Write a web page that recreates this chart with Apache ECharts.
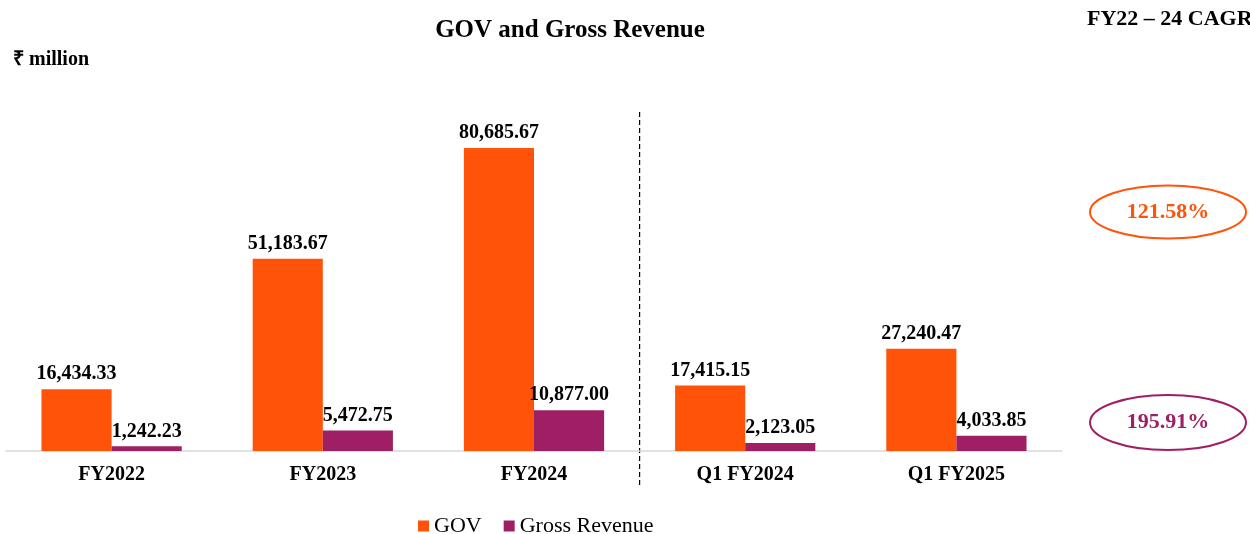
<!DOCTYPE html>
<html>
<head>
<meta charset="utf-8">
<script src="https://cdn.jsdelivr.net/npm/echarts@6/dist/echarts.min.js"></script>
<style>
  html, body { margin: 0; padding: 0; background: #fff; }
  #chart { width: 1250px; height: 534px; }
</style>
</head>
<body>
<div id="chart"></div>
<script>
// Periods shown on the category axis
const categories = ['FY2022', 'FY2023', 'FY2024', 'Q1 FY2024', 'Q1 FY2025'];
// Values in ₹ million
const govValues = [16434.33, 51183.67, 80685.67, 17415.15, 27240.47];
const grossRevenueValues = [1242.23, 5472.75, 10877.00, 2123.05, 4033.85];
// FY22 – 24 compound annual growth
const cagrLabels = ['121.58%', '195.91%'];

const GOV_COLOR = '#FF5309';
const REV_COLOR = '#9E1F63';
const FONT = '"Liberation Serif", "Times New Roman", serif';

const fmt = v => v.toLocaleString('en-US', { minimumFractionDigits: 2, maximumFractionDigits: 2 });

const chart = echarts.init(document.getElementById('chart'), null, { renderer: 'canvas' });

const labelStyle = {
  show: true,
  position: 'top',
  distance: 5,
  fontFamily: FONT,
  fontWeight: 'bold',
  fontSize: 20,
  color: '#000',
  formatter: p => fmt(p.value)
};

chart.setOption({
  animation: false,
  textStyle: { fontFamily: FONT },
  title: {
    text: 'GOV and Gross Revenue',
    left: 565,
    textAlign: 'center',
    top: 13,
    textStyle: { fontFamily: FONT, fontSize: 25, fontWeight: 'bold', color: '#000' }
  },
  legend: {
    data: ['GOV', 'Gross Revenue'],
    left: 418,
    top: 515,
    padding: 0,
    icon: 'rect',
    itemWidth: 11,
    itemHeight: 11,
    itemGap: 22,
    textStyle: { fontFamily: FONT, fontSize: 22, color: '#000' }
  },
  grid: { left: 6, right: 188, top: 100, bottom: 83, containLabel: false },
  xAxis: {
    type: 'category',
    data: categories,
    axisLine: { show: true, lineStyle: { color: '#d9d9d9', width: 1.5 } },
    axisTick: { show: false },
    axisLabel: {
      fontFamily: FONT, fontWeight: 'bold', fontSize: 20, color: '#000', margin: 14
    }
  },
  yAxis: {
    type: 'value',
    min: 0,
    max: 93500,
    show: false,
    splitLine: { show: false }
  },
  series: [
    {
      name: 'GOV',
      type: 'bar',
      data: govValues,
      itemStyle: { color: GOV_COLOR },
      barGap: '0%',
      barCategoryGap: '33.6%',
      label: labelStyle
    },
    {
      name: 'Gross Revenue',
      type: 'bar',
      data: grossRevenueValues,
      itemStyle: { color: REV_COLOR },
      label: labelStyle
    }
  ]
});

// Separator between annual and quarterly periods, placed from the axis scale
const xa = chart.convertToPixel({ xAxisIndex: 0 }, categories[2]);
const xb = chart.convertToPixel({ xAxisIndex: 0 }, categories[3]);
const sepX = (xa + xb) / 2;

chart.setOption({
  graphic: [
    {
      type: 'text',
      left: 13, top: 50,
      style: { text: '₹ million', font: 'bold 20px ' + FONT, fill: '#000' }
    },
    {
      type: 'text',
      left: 1087, top: 8,
      style: { text: 'FY22 – 24 CAGR', font: 'bold 22px ' + FONT, fill: '#000' }
    },
    {
      type: 'line',
      shape: { x1: sepX, y1: 112, x2: sepX, y2: 488 },
      style: { stroke: '#000', lineWidth: 1.2, lineDash: [5, 3] }
    },
    {
      type: 'ellipse',
      shape: { cx: 1168, cy: 212, rx: 78, ry: 26.5 },
      style: { fill: 'none', stroke: GOV_COLOR, lineWidth: 2 }
    },
    {
      type: 'text',
      x: 1168, y: 212,
      style: {
        text: cagrLabels[0], font: 'bold 22px ' + FONT, fill: GOV_COLOR,
        textAlign: 'center', textVerticalAlign: 'middle'
      }
    },
    {
      type: 'ellipse',
      shape: { cx: 1168, cy: 422.5, rx: 78, ry: 27.5 },
      style: { fill: 'none', stroke: REV_COLOR, lineWidth: 2 }
    },
    {
      type: 'text',
      x: 1168, y: 422.5,
      style: {
        text: cagrLabels[1], font: 'bold 22px ' + FONT, fill: REV_COLOR,
        textAlign: 'center', textVerticalAlign: 'middle'
      }
    }
  ]
});
</script>
</body>
</html>
